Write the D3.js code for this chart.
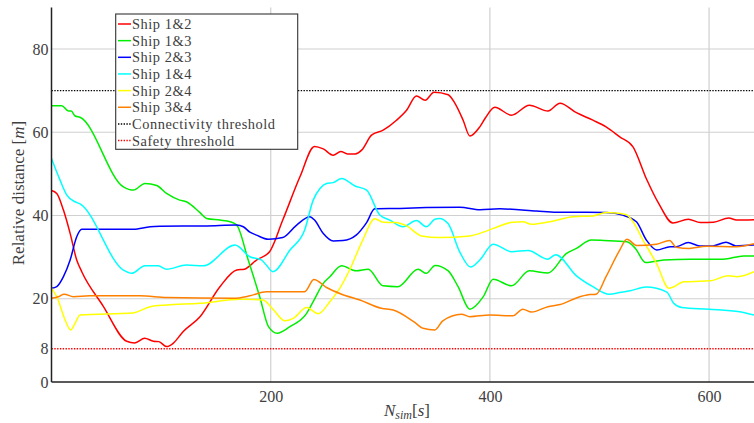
<!DOCTYPE html>
<html><head><meta charset="utf-8">
<script src="https://cdn.jsdelivr.net/npm/d3@7/dist/d3.min.js"></script>
<style>
html,body{margin:0;padding:0;background:#fff;}
</style></head>
<body>
<svg id="chart" width="754" height="423" font-family="'Liberation Serif', 'DejaVu Serif', serif"></svg>
<script>
// ---- data: [N_sim (s), relative distance (m)] ----
const ship12 = [[0,46.0],[4.8,45.3],[10.9,41.3],[17,35.7],[23,29.3],[27.6,26.5],[47,18.3],[68.6,9.8],[76,9.4],[85,10.5],[93,9.8],[98,9.7],[105,8.5],[111,9.3],[120,12.1],[135.5,15.7],[153.7,22.9],[169,26.9],[176,27.1],[187,29.3],[199,31.3],[211,38.9],[226.7,49.3],[240,56.6],[248,56.0],[257,54.5],[264,55.4],[270,54.8],[277,54.8],[283,55.7],[292,59.3],[302.6,60.5],[314.8,62.9],[324,65.3],[333,68.7],[341,67.7],[349,69.6],[362,69.0],[368,67.0],[375.6,62.9],[381.7,59.1],[390.8,61.3],[396,63.5],[404.5,66.0],[419.7,64.1],[436,66.5],[453,65.1],[464,67.0],[479,64.7],[494,62.9],[506,61.3],[518.5,58.9],[530.6,56.5],[543,48.7],[554,42.9],[567,38.2],[581,39.1],[592,38.3],[604,38.4],[618,39.4],[625,38.9],[641,39.0]];
const ship13 = [[0,66.4],[9.4,66.4],[15.4,65.1],[18,65.1],[21.5,63.9],[26,63.6],[65.6,46.9],[74.7,46.1],[85.3,47.7],[96,47.2],[105,45.3],[117,43.7],[123,43.3],[135.5,40.7],[141.6,39.3],[153.7,38.9],[163,38.5],[169,37.7],[179.5,29.3],[190,20.5],[198,13.3],[206,11.7],[217.6,13.3],[232.8,16.5],[238.8,19.3],[248,23.7],[254,25.3],[264.7,27.9],[278,26.7],[289,27.1],[302.6,23.1],[316,22.9],[334.5,27.1],[342,26.1],[350,28.0],[362,26.7],[371,22.9],[381.7,17.5],[394,20.5],[403,24.7],[419.7,23.1],[436,26.7],[453,26.2],[470,30.9],[479,32.1],[492.6,34.1],[504,34.0],[525,33.7],[532.8,32.1],[542,28.7],[558.6,29.3],[583,29.5],[613,29.5],[631.5,30.3],[641,30.3]];
const ship23 = [[0,22.5],[4.8,22.9],[10.9,25.3],[17,29.3],[23,34.9],[27.6,36.7],[74.7,36.7],[90,37.3],[99,37.4],[141.6,37.5],[169,37.7],[175,37.3],[181,36.0],[187,35.3],[198,34.3],[211,34.7],[223.7,37.7],[235.8,39.7],[240,38.9],[248,35.7],[257,33.9],[266,34.0],[278,35.3],[287.5,38.3],[295,41.6],[318,41.7],[342,41.9],[372.6,42.0],[391,41.4],[409,41.6],[442.5,41.1],[460.7,40.8],[488,40.8],[506,40.7],[521,40.1],[533.7,38.5],[542.8,34.1],[552.3,31.7],[564.5,32.5],[570,32.5],[581,33.5],[591.5,32.7],[603.5,32.7],[615.5,33.6],[624.5,32.7],[641,32.9]];
const ship14 = [[0,53.7],[7.8,48.5],[14,44.9],[21.5,43.3],[26,42.8],[65.6,26.9],[73,26.1],[85.3,27.9],[97.5,27.9],[105,27.1],[123,28.1],[138.5,27.9],[167.4,32.9],[181,30.1],[191.8,29.3],[196,28.1],[202,26.5],[217.6,31.7],[231,36.5],[238.8,43.7],[245,46.5],[251,47.7],[257,47.9],[264.7,48.9],[277,47.1],[287.5,46.1],[299.6,40.1],[308.7,38.9],[320.8,37.3],[333,38.8],[342,37.3],[349.8,39.1],[354,39.3],[362,38.0],[372.6,31.2],[382.5,27.6],[390.8,29.3],[403,33.1],[419.7,31.3],[434.8,31.6],[453,29.5],[460,30.6],[479,25.5],[494,22.9],[509,21.1],[518.5,21.5],[528,21.9],[542.5,22.8],[561.5,21.6],[567.7,18.9],[575,17.9],[600,17.5],[628,16.9],[641,16.1]];
const ship24 = [[0,22.5],[4.8,20.5],[12.4,14.9],[17.6,12.5],[21.5,14.1],[26,16.1],[74.7,16.6],[90,18.1],[105,18.5],[135.5,18.9],[172,19.9],[193,19.7],[202,17.5],[213,14.7],[220.6,15.3],[232.8,17.9],[243.4,16.4],[254,19.3],[263,22.5],[272,26.9],[284,34.1],[295,39.2],[302.6,38.4],[314,38.3],[324,37.5],[337.6,35.1],[354,34.7],[381.7,35.1],[394,36.0],[403,36.9],[421,38.4],[430,38.5],[438,37.9],[454.6,38.5],[475.9,39.7],[494,39.9],[506,40.7],[515,40.6],[524.6,40.2],[530.6,38.5],[539.7,34.1],[552,28.5],[563.5,22.5],[568,22.9],[577,24.1],[582,24.1],[601,24.3],[617.5,25.5],[626,25.3],[641,26.5]];
const ship34 = [[0,20.1],[6.3,20.5],[11.5,21.1],[20,20.5],[35,20.7],[80.8,20.7],[105,20.3],[166,20.1],[181,20.7],[196,21.7],[231,21.7],[239.4,24.6],[251,22.7],[264.7,21.1],[281.4,19.7],[301,17.7],[311.8,17.3],[331.5,14.3],[339,12.9],[349.8,12.5],[357,14.7],[374,16.3],[381.7,15.7],[400,16.1],[421,15.9],[430,17.5],[438,16.8],[453,18.1],[464,18.6],[479,20.2],[491,21.0],[497,21.1],[506,25.3],[518.5,31.7],[525,34.3],[534,32.8],[552,33.1],[564,34.0],[570,32.4],[582,32.1],[597.5,32.6],[625,32.5],[641,33.2]];

const seriesNames  = ["Ship 1&2","Ship 1&3","Ship 2&3","Ship 1&4","Ship 2&4","Ship 3&4"];
const seriesColors = ["#ff0000","#00ee00","#0000ff","#00ffff","#ffff00","#ff8000"];
const seriesData   = [ship12, ship13, ship23, ship14, ship24, ship34];

const thresholdNames  = ["Connectivity threshold","Safety threshold"];
const thresholdValues = [70, 8];
const thresholdColors = ["#000000","#ff0000"];

const xTicks = [200, 400, 600];
const yTicks = [0, 8, 20, 40, 60, 80];
const yGrid  = [20, 40, 60, 80];
const xDomain = [0, 641];
const yDomain = [0, 90];

// ---- layout ----
const FONT = "'Liberation Serif', 'DejaVu Serif', serif";
const TXT = "#404040";
const svg = d3.select("#chart");
const pL = 51.5, pR = 754, pT = 7.4, pB = 382;
const x = d3.scaleLinear().domain(xDomain).range([pL, pR]);
const y = d3.scaleLinear().domain(yDomain).range([pB, pT]);

svg.append("defs").append("clipPath").attr("id","clip")
  .append("rect").attr("x",pL).attr("y",pT).attr("width",pR-pL).attr("height",pB-pT);

// grid
const grid = svg.append("g");
grid.selectAll("line.gx").data(xTicks).join("line")
  .attr("x1",d=>x(d)).attr("x2",d=>x(d)).attr("y1",pT).attr("y2",pB)
  .attr("stroke","#d6d6d6").attr("stroke-width",1.4);
grid.selectAll("line.gy").data(yGrid).join("line")
  .attr("x1",pL).attr("x2",pR).attr("y1",d=>y(d)).attr("y2",d=>y(d))
  .attr("stroke","#d0d0d0").attr("stroke-width",1.2);

// thresholds
const thr = svg.append("g").attr("clip-path","url(#clip)");
thr.selectAll("line").data(thresholdValues).join("line")
  .attr("x1",pL).attr("x2",pR).attr("y1",d=>y(d)).attr("y2",d=>y(d))
  .attr("stroke",(d,i)=>thresholdColors[i]).attr("stroke-width",1.4)
  .attr("stroke-dasharray","1.4,1.4");

// series
const line = d3.line().x(d=>x(d[0])).y(d=>y(d[1])).curve(d3.curveMonotoneX);
const lines = svg.append("g").attr("clip-path","url(#clip)");
seriesData.forEach((s,i)=>{
  lines.append("path").datum(s).attr("d",line).attr("fill","none")
    .attr("stroke",seriesColors[i]).attr("stroke-width",1.5)
    .attr("stroke-linejoin","round");
});

// axes
const xAxis = d3.axisBottom(x).tickValues(xTicks).tickSize(0).tickPadding(9);
const gx = svg.append("g").attr("transform",`translate(0,${pB})`).call(xAxis)
  .attr("font-family",FONT).attr("font-size",16);
gx.select(".domain").attr("stroke","#222").attr("stroke-width",1.5).attr("d",`M${pL},0H${pR}`);
gx.selectAll("text").attr("fill",TXT);

const yAxis = d3.axisLeft(y).tickValues(yTicks).tickSize(0).tickPadding(3);
const gy = svg.append("g").attr("transform",`translate(${pL},0)`).call(yAxis)
  .attr("font-family",FONT).attr("font-size",16);
gy.select(".domain").attr("stroke","#222").attr("stroke-width",1.5).attr("d",`M0,${pT}V${pB}`);
gy.selectAll("text").attr("fill",TXT);

// axis titles
const xl = svg.append("text").attr("x",407).attr("y",416).attr("text-anchor","middle")
  .attr("font-size",17).attr("font-family",FONT).attr("fill",TXT);
xl.append("tspan").attr("font-style","italic").text("N");
xl.append("tspan").attr("font-style","italic").attr("font-size",12).attr("dy",3).text("sim");
xl.append("tspan").attr("dy",-3).text("[");
xl.append("tspan").attr("font-style","italic").text("s");
xl.append("tspan").text("]");

const yl = svg.append("text").attr("transform","translate(24,193) rotate(-90)")
  .attr("text-anchor","middle").attr("font-size",17).attr("font-family",FONT).attr("fill",TXT);
yl.append("tspan").text("Relative distance [");
yl.append("tspan").attr("font-style","italic").text("m");
yl.append("tspan").text("]");

// legend
const lg = svg.append("g").attr("font-family",FONT);
lg.append("rect").attr("x",115.7).attr("y",14).attr("width",182).attr("height",135.3)
  .attr("fill","#fff").attr("stroke","#333").attr("stroke-width",1.1);
const legendItems = seriesNames.map((n,i)=>({name:n,color:seriesColors[i],dash:null}))
  .concat(thresholdNames.map((n,i)=>({name:n,color:thresholdColors[i],dash:"1.4,1.4"})));
legendItems.forEach((it,i)=>{
  const cy = 24 + i*16.65;
  lg.append("line").attr("x1",118).attr("x2",131).attr("y1",cy).attr("y2",cy)
    .attr("stroke",it.color).attr("stroke-width",1.5).attr("stroke-dasharray",it.dash);
  lg.append("text").attr("x",132).attr("y",cy).attr("dy","0.35em").attr("font-size",14.4)
    .attr("letter-spacing",0.55).attr("fill",TXT).text(it.name);
});
</script>
</body></html>
